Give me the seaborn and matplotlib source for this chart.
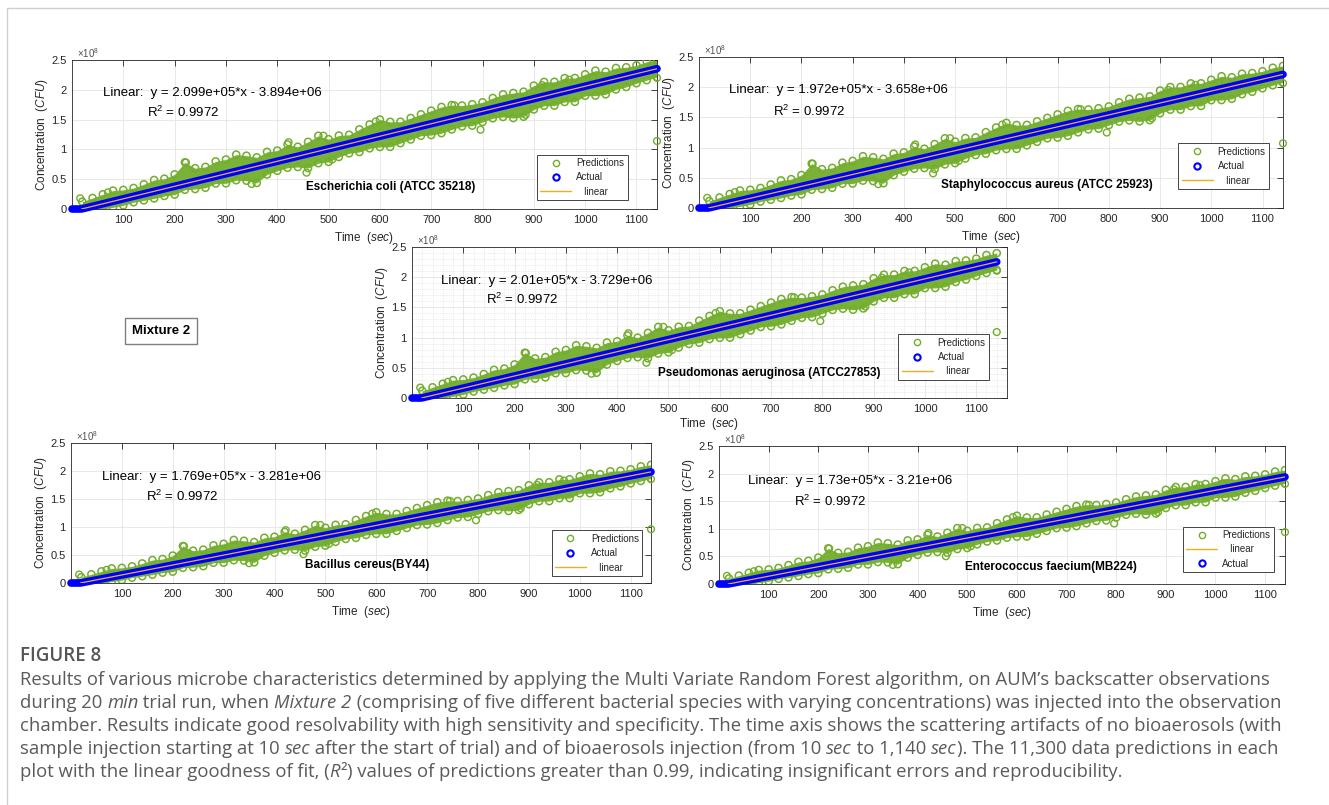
import seaborn as sns
import matplotlib.pyplot as plt
from matplotlib.lines import Line2D
from matplotlib.ticker import AutoMinorLocator

W, H = 1329, 805

# --- data (concentration in units of 1e8 CFU) ---
species = ["Escherichia coli (ATCC 35218)", "Staphylococcus aureus (ATCC 25923)",
           "Pseudomonas aeruginosa (ATCC27853)", "Bacillus cereus(BY44)",
           "Enterococcus faecium(MB224)"]
slopes = [2.099e5, 1.972e5, 2.01e5, 1.769e5, 1.73e5]
intercepts = [-3.894e6, -3.658e6, -3.729e6, -3.281e6, -3.21e6]
eq_labels = ["Linear:  y = 2.099e+05*x - 3.894e+06",
             "Linear:  y = 1.972e+05*x - 3.658e+06",
             "Linear:  y = 2.01e+05*x - 3.729e+06",
             "Linear:  y = 1.769e+05*x - 3.281e+06",
             "Linear:  y = 1.73e+05*x - 3.21e+06"]
r2_label = "R$^2$ = 0.9972"

# actual concentration: zero until injection, then ramp up to the end value
actual_t = [0, 18.5, 1140]
actual_end = [2.354, 2.212, 2.254, 1.984, 1.940]
fit_t = [18.5, 1140]

# spread of the prediction cloud around the fit (E. coli panel, units of 1e7),
# the other panels show the same pattern scaled by their slope
env_t = [20, 40, 60, 80, 100, 120, 140, 160, 180, 200, 220, 240, 260, 280, 300,
         320, 340, 360, 380, 400, 420, 440, 460, 480, 500, 520, 540, 560, 580, 600,
         620, 640, 660, 680, 700, 720, 740, 760, 780, 800, 820, 840, 860, 880, 900,
         920, 940, 960, 980, 1000, 1020, 1040, 1060, 1080, 1100, 1120, 1140]
env_up = [1.2, 1.4, 1.6, 1.8, 1.5, 1.4, 1.6, 1.9, 1.7, 2.0, 3.6, 2.2, 2.0, 2.5, 2.4,
          2.8, 2.2, 1.5, 2.0, 1.8, 2.4, 1.6, 2.0, 2.6, 1.6, 1.8, 1.5, 2.0, 2.4, 2.8,
          2.0, 1.6, 1.8, 2.0, 2.2, 2.4, 2.3, 1.8, 1.6, 1.5, 1.8, 2.0, 1.8, 1.6, 2.2,
          2.4, 2.0, 2.2, 1.8, 2.0, 2.2, 1.6, 1.8, 1.5, 1.4, 1.6, 1.5]
env_lo = [0.5, 0.8, 0.9, 1.0, 1.1, 1.0, 1.1, 1.2, 1.2, 1.4, 1.0, 1.3, 1.5, 1.2, 1.6,
          1.5, 2.0, 2.8, 1.8, 1.6, 1.5, 1.8, 2.4, 2.0, 2.2, 1.8, 1.6, 1.8, 1.6, 1.8,
          2.2, 2.0, 1.8, 1.6, 1.9, 2.0, 1.8, 1.7, 2.0, 1.8, 1.6, 1.8, 2.4, 2.6, 1.8,
          1.6, 2.0, 1.8, 2.2, 1.6, 2.0, 2.2, 1.8, 1.8, 1.6, 1.5, 1.4]
# isolated predictions (E. coli panel, 1e8)
out_t = [16, 70, 222, 350, 422, 457, 490, 507, 592, 745, 796, 884, 916, 969, 1015, 1140, 1140]
out_v = [0.18, 0.28, 0.78, 0.42, 1.12, 0.61, 1.23, 0.83, 1.47, 1.74, 1.33, 1.58, 2.08,
         2.17, 2.21, 2.20, 1.14]

# --- layout (pixels: left, right, top, bottom) ---
boxes = [(72, 657, 60, 209), (699, 1283, 57, 208), (412, 1007, 247, 398),
         (71, 651, 443, 583), (719, 1285, 446, 584)]
xmax = [1140, 1140, 1160, 1140, 1140]
eq_pos = [(0.053, 0.78), (0.051, 0.78), (0.049, 0.775), (0.053, 0.76), (0.051, 0.75)]
r2_pos = [(0.128, 0.65), (0.127, 0.64), (0.124, 0.65), (0.13, 0.62), (0.132, 0.60)]
sp_pos = [(0.545, 0.15), (0.596, 0.15), (0.60, 0.166), (0.51, 0.13), (0.587, 0.12)]
leg_anchor = [(0.95, 0.06), (0.976, 0.126), (0.97, 0.12), (0.985, 0.05), (0.98, 0.086)]
xlabel_pad = [4, 4, 2, 4, 4]

green = "#72AE2C"
blue = "#0000FF"
orange = "#EDB120"
ink = "#262626"

sns.set_theme(style="white")
plt.rcParams['font.family'] = ['Liberation Sans', 'DejaVu Sans']
plt.rcParams['mathtext.fontset'] = 'custom'
plt.rcParams['mathtext.rm'] = 'Liberation Sans'
plt.rcParams['mathtext.it'] = 'Liberation Sans:italic'
plt.rcParams['mathtext.bf'] = 'Liberation Sans:bold'

fig = plt.figure(figsize=(W / 100, H / 100), dpi=100)

for i in range(5):
    l, r, t, b = boxes[i]
    ax = fig.add_axes([l / W, 1 - b / H, (r - l) / W, (b - t) / H])
    ratio = slopes[i] / slopes[0]
    line_env = [(slopes[i] * x + intercepts[i]) / 1e8 for x in env_t]
    upper = [v + d * ratio / 10 for v, d in zip(line_env, env_up)]
    lower = [max(v - d * ratio / 10, 0.0) for v, d in zip(line_env, env_lo)]

    ax.fill_between(env_t, lower, upper, color=green, alpha=0.95, lw=0, zorder=2)
    sns.scatterplot(x=env_t + env_t, y=upper + lower, ax=ax, marker='o', s=26,
                    facecolor='none', edgecolor=green, linewidth=1.1, zorder=3)
    sns.scatterplot(x=out_t, y=[v * ratio for v in out_v], ax=ax, marker='o', s=24,
                    facecolor='none', edgecolor=green, linewidth=1, zorder=3, clip_on=False)
    sns.lineplot(x=actual_t, y=[0, 0, actual_end[i]], ax=ax, color=blue, lw=5.5,
                 sort=False, estimator=None, zorder=4, clip_on=False,
                 solid_capstyle='round')
    fit_v = [(slopes[i] * x + intercepts[i]) / 1e8 for x in fit_t]
    sns.lineplot(x=fit_t, y=fit_v, ax=ax, color=orange, lw=0.9, sort=False,
                 estimator=None, zorder=5)

    ax.set_xlim(0, xmax[i])
    ax.set_ylim(0, 2.5)
    ax.set_xticks(range(100, 1101, 100))
    ax.set_yticks([0, 0.5, 1, 1.5, 2, 2.5])
    ax.set_yticklabels(['0', '0.5', '1', '1.5', '2', '2.5'])
    ax.tick_params(direction='in', top=True, right=True, length=4, width=0.6,
                   labelsize=8, pad=4, colors=ink)
    ax.grid(True, color='#e4e4e4', lw=0.6)
    if i == 2:
        ax.xaxis.set_minor_locator(AutoMinorLocator(5))
        ax.yaxis.set_minor_locator(AutoMinorLocator(5))
        ax.tick_params(which='minor', length=0)
        ax.grid(True, which='minor', color='#d8d8d8', lw=0.5, ls=':')
    ax.set_axisbelow(True)
    for s in ax.spines.values():
        s.set_color(ink)
        s.set_linewidth(0.6)

    ax.set_xlabel(r'Time  $\mathit{(sec)}$', fontsize=8.5, labelpad=xlabel_pad[i], color=ink)
    ax.set_ylabel(r'Concentration  $\mathit{(CFU)}$', fontsize=8.5, labelpad=1, color=ink)
    ax.text(0.008, 1.0, r'$\times10^{8}$', transform=ax.transAxes, fontsize=7,
            color='#505050', ha='left', va='bottom')

    ax.text(*eq_pos[i], eq_labels[i], transform=ax.transAxes, fontsize=9.5,
            color='black', ha='left', va='center')
    ax.text(*r2_pos[i], r2_label, transform=ax.transAxes, fontsize=9.5,
            color='black', ha='left', va='center')
    ax.text(*sp_pos[i], species[i], transform=ax.transAxes, fontsize=8.5,
            weight='bold', color='black', ha='center', va='center')

    pred_h = Line2D([], [], ls='none', marker='o', mfc='none', mec=green, ms=4.5, mew=1)
    act_h = Line2D([], [], ls='none', marker='o', mfc='none', mec=blue, ms=4.5, mew=1.5)
    lin_h = Line2D([], [], color=orange, lw=1)
    if i == 4:
        handles = [pred_h, lin_h, act_h]
        labels = ['Predictions', '   linear', 'Actual']
    else:
        handles = [pred_h, act_h, lin_h]
        labels = ['Predictions', 'Actual', '   linear']
    leg = ax.legend(handles, labels, loc='lower right', bbox_to_anchor=leg_anchor[i],
                    fontsize=7, frameon=True, fancybox=False, edgecolor=ink,
                    framealpha=1, handlelength=3.2, handletextpad=0.5,
                    borderpad=0.35, labelspacing=0.45, borderaxespad=0)
    leg.get_frame().set_linewidth(0.6)
    leg.set_zorder(10)

# "Mixture 2" label box
fig.text(161 / W, 1 - 331 / H, 'Mixture 2', fontsize=9.5, weight='bold', color='black',
         ha='center', va='center',
         bbox=dict(boxstyle='square,pad=0.55', fc='white', ec='#7f7f7f', lw=1))

# page frame
fig.add_artist(Line2D([7 / W, 1], [1 - 8 / H, 1 - 8 / H], transform=fig.transFigure,
                      color='#cfcfcf', lw=1))
fig.add_artist(Line2D([7 / W, 7 / W], [0, 1 - 8 / H], transform=fig.transFigure,
                      color='#cfcfcf', lw=1))

# caption, written as runs of (text, italic?)
caption_lines = [
    [("Results of various microbe characteristics determined by applying the Multi Variate Random Forest algorithm, on AUM\u2019s backscatter observations", False)],
    [("during 20 ", False), ("min", True), (" trial run, when ", False), ("Mixture 2", True),
     (" (comprising of five different bacterial species with varying concentrations) was injected into the observation", False)],
    [("chamber. Results indicate good resolvability with high sensitivity and specificity. The time axis shows the scattering artifacts of no bioaerosols (with", False)],
    [("sample injection starting at 10 ", False), ("sec", True),
     (" after the start of trial) and of bioaerosols injection (from 10 ", False), ("sec", True),
     (" to 1,140 ", False), ("sec", True), ("). The 11,300 data predictions in each", False)],
    [("plot with the linear goodness of fit, (", False), ("R", True), ("\u00b2", False),
     (") values of predictions greater than 0.99, indicating insignificant errors and reproducibility.", False)],
]
cap_font = ['Open Sans', 'DejaVu Sans']
fig.text(20 / W, 1 - 661 / H, 'FIGURE 8', fontfamily=cap_font,
         fontsize=13.5, weight='semibold', color='#555555', va='baseline')
renderer = fig.canvas.get_renderer()
for k, runs in enumerate(caption_lines):
    x = 20 / W
    y = 1 - (685 + 23 * k) / H
    for txt, ital in runs:
        tx = fig.text(x, y, txt, fontfamily=cap_font, fontsize=13.3,
                      style='italic' if ital else 'normal', color='#5a5a5a', va='baseline')
        x += tx.get_window_extent(renderer=renderer).width / W

fig.savefig('out.png', dpi=100)
